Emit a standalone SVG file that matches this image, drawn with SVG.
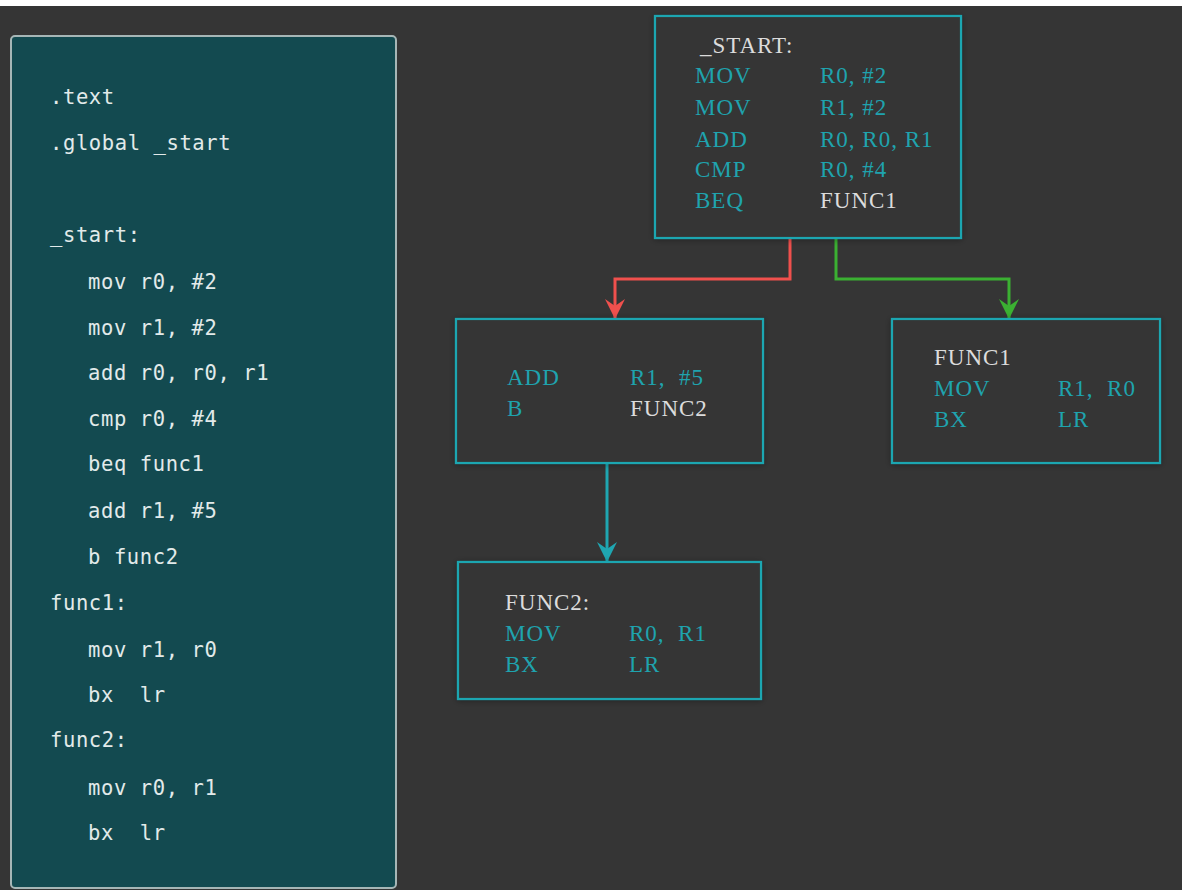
<svg xmlns="http://www.w3.org/2000/svg" width="1182" height="890" viewBox="0 0 1182 890">
  <style>
    .code { font-family: "DejaVu Sans Mono", "Liberation Mono", monospace; font-size: 20.5px; fill: #e2eaea; letter-spacing: 0.6px; }
    .box { fill: #363636; stroke: #1fa6b1; stroke-width: 2.2; filter: url(#shadow); }
    .asm { font-family: "Liberation Serif", serif; font-size: 23px; letter-spacing: 1px; }
    .op { fill: #1fa3ae; }
    .lbl { fill: #dcdcdc; }
    .edge { fill: none; stroke-width: 3; }
  </style>
  <defs>
    <filter id="shadow" x="-10%" y="-10%" width="120%" height="120%">
      <feDropShadow dx="0" dy="1" stdDeviation="3" flood-color="#000" flood-opacity="0.35"/>
    </filter>
    <marker id="arrow-red" viewBox="0 0 20 20" refX="19" refY="10" markerWidth="20" markerHeight="20" markerUnits="userSpaceOnUse" orient="auto">
      <path d="M0,0 L20,10 L0,20 L7,10 z" fill="#f0504d"/>
    </marker>
    <marker id="arrow-green" viewBox="0 0 20 20" refX="19" refY="10" markerWidth="20" markerHeight="20" markerUnits="userSpaceOnUse" orient="auto">
      <path d="M0,0 L20,10 L0,20 L7,10 z" fill="#3bb032"/>
    </marker>
    <marker id="arrow-teal" viewBox="0 0 20 20" refX="19" refY="10" markerWidth="20" markerHeight="20" markerUnits="userSpaceOnUse" orient="auto">
      <path d="M0,0 L20,10 L0,20 L7,10 z" fill="#1fa6b1"/>
    </marker>
  </defs>

  <!-- page -->
  <rect x="0" y="0" width="1182" height="890" fill="#353535"/>
  <rect x="0" y="0" width="1182" height="6" fill="#ffffff"/>

  <!-- source listing -->
  <g id="source">
    <rect x="11" y="36" width="385" height="852" rx="4" fill="#134a50" stroke="#a6b6b6" stroke-width="2"/>
    <text class="code" x="50" y="104">.text</text>
    <text class="code" x="50" y="150">.global _start</text>
    <text class="code" x="50" y="242">_start:</text>
    <text class="code" x="88" y="289">mov r0, #2</text>
    <text class="code" x="88" y="335">mov r1, #2</text>
    <text class="code" x="88" y="380">add r0, r0, r1</text>
    <text class="code" x="88" y="426">cmp r0, #4</text>
    <text class="code" x="88" y="471">beq func1</text>
    <text class="code" x="88" y="518">add r1, #5</text>
    <text class="code" x="88" y="564">b func2</text>
    <text class="code" x="50" y="610">func1:</text>
    <text class="code" x="88" y="657">mov r1, r0</text>
    <text class="code" x="88" y="702" xml:space="preserve">bx  lr</text>
    <text class="code" x="50" y="747">func2:</text>
    <text class="code" x="88" y="795">mov r0, r1</text>
    <text class="code" x="88" y="840" xml:space="preserve">bx  lr</text>
  </g>

  <!-- connectors -->
  <g id="connectors">
    <path class="edge" stroke="#f0504d" d="M790,239 V279 H615 V318" marker-end="url(#arrow-red)"/>
    <path class="edge" stroke="#3bb032" d="M836,239 V279 H1009 V318" marker-end="url(#arrow-green)"/>
    <path class="edge" stroke="#1fa6b1" d="M607,464 V561" marker-end="url(#arrow-teal)"/>
  </g>

  <!-- _start block -->
  <g id="block-start" class="asm">
    <rect class="box" x="655" y="16" width="306" height="222"/>
    <text class="lbl" x="700" y="53">_START:</text>
    <text class="op" x="695" y="83">MOV</text>
    <text class="op" x="820" y="83">R0, #2</text>
    <text class="op" x="695" y="115">MOV</text>
    <text class="op" x="820" y="115">R1, #2</text>
    <text class="op" x="695" y="147">ADD</text>
    <text class="op" x="820" y="147">R0, R0, R1</text>
    <text class="op" x="695" y="177">CMP</text>
    <text class="op" x="820" y="177">R0, #4</text>
    <text class="op" x="695" y="208">BEQ</text>
    <text class="lbl" x="820" y="208">FUNC1</text>
  </g>

  <!-- fall-through block -->
  <g id="block-add" class="asm">
    <rect class="box" x="456" y="319" width="307" height="144"/>
    <text class="op" x="507" y="385">ADD</text>
    <text class="op" x="630" y="385" xml:space="preserve">R1,  #5</text>
    <text class="op" x="507" y="416">B</text>
    <text class="lbl" x="630" y="416">FUNC2</text>
  </g>

  <!-- func1 block -->
  <g id="block-func1" class="asm">
    <rect class="box" x="892" y="319" width="268" height="144"/>
    <text class="lbl" x="934" y="365">FUNC1</text>
    <text class="op" x="934" y="396">MOV</text>
    <text class="op" x="1058" y="396" xml:space="preserve">R1,  R0</text>
    <text class="op" x="934" y="427">BX</text>
    <text class="op" x="1058" y="427">LR</text>
  </g>

  <!-- func2 block -->
  <g id="block-func2" class="asm">
    <rect class="box" x="458" y="562" width="303" height="137"/>
    <text class="lbl" x="505" y="610">FUNC2:</text>
    <text class="op" x="505" y="641">MOV</text>
    <text class="op" x="629" y="641" xml:space="preserve">R0,  R1</text>
    <text class="op" x="505" y="672">BX</text>
    <text class="op" x="629" y="672">LR</text>
  </g>
</svg>
